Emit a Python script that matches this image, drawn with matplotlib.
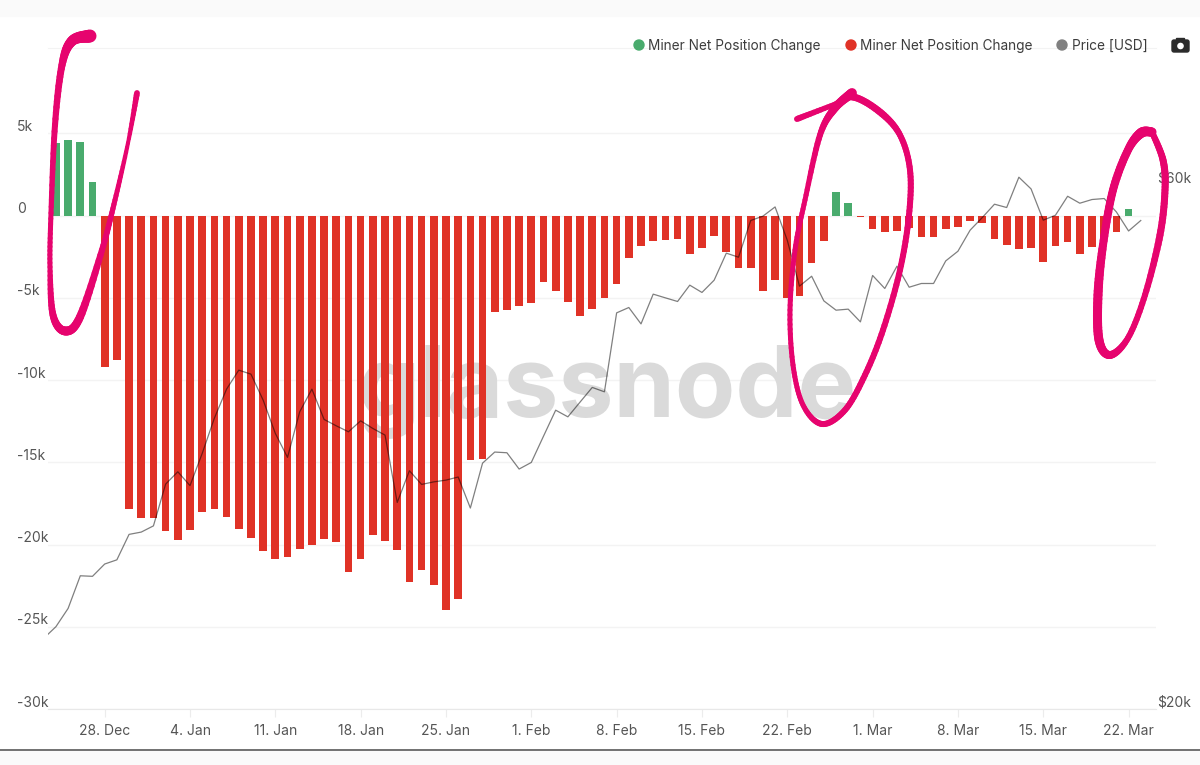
import matplotlib
matplotlib.use("Agg")
import matplotlib.dates as mdates
import matplotlib.pyplot as plt
import numpy as np
import pandas as pd
from matplotlib.collections import LineCollection
from matplotlib.lines import Line2D
from matplotlib.patches import Circle, FancyBboxPatch, Rectangle
from matplotlib.transforms import ScaledTranslation

W, H = 1200, 765

plt.rcParams["font.family"] = ["Inter", "DejaVu Sans"]

# daily net position change, 24 Dec to 22 Mar
net_change = [
    4390, 4590, 4450, 2050,
    -9200, -8800, -17870, -18400, -18400, -19170, -19740, -19100, -18000, -17870,
    -18340, -19030, -19580, -20410, -20900, -20750, -20260, -20000, -19660, -19860,
    -21670, -20900, -19450, -19800, -20350, -22300, -21520, -22480, -24000, -23300,
    -14870, -14800,
    -5850, -5750, -5500, -5340, -4050, -4590, -5280, -6110, -5690, -5020,
    -4190, -2600, -1860, -1570, -1510, -1430, -2320, -1980, -1230, -2200,
    -3210, -3210, -4590, -3920, -5000, -4880, -2890, -1570,
    1430, 740, -90,
    -820, -1020, -940, -740, -1310, -1310, -820, -680, -350, -470,
    -1430, -1770, -2060, -1980, -2810, -1840, -1630, -2320, -1920, -1350, -1020, 400,
]

# daily BTC price in USD, 23 Dec to 23 Mar
price_usd = [
    23200, 23770, 24700, 26450, 26420, 27110, 27350, 28850, 28990, 29370,
    32060, 32900, 31960, 34190, 36820, 39130, 40720, 40380, 38240, 35660,
    33910, 37310, 39130, 36720, 36230, 35780, 36610, 36030, 35530, 30850,
    32970, 32040, 32210, 32330, 32540, 30490, 33500, 34290, 34240, 33090,
    33550, 35450, 37440, 36920, 38080, 39270, 38910, 45920, 46440, 44870,
    47760, 47390, 47030, 48670, 47930, 49180, 52050, 51610, 55740, 56250,
    57350, 53480, 48570, 49590, 47090, 46180, 46280, 45060, 49670, 48330,
    50650, 48460, 48840, 48840, 51210, 52260, 54620, 56090, 57680, 57280,
    61040, 59560, 55780, 56360, 58650, 57800, 58250, 58370, 56750, 54530,
    55740,
]

left_ticks = [-30000, -25000, -20000, -15000, -10000, -5000, 0, 5000]
left_labels = ["-30k", "-25k", "-20k", "-15k", "-10k", "-5k", "0", "5k"]
right_ticks = [20000, 60000]
right_labels = ["$20k", "$60k"]
date_ticks = ["2020-12-28", "2021-01-04", "2021-01-11", "2021-01-18", "2021-01-25",
              "2021-02-01", "2021-02-08", "2021-02-15", "2021-02-22", "2021-03-01",
              "2021-03-08", "2021-03-15", "2021-03-22"]
date_labels = ["28. Dec", "4. Jan", "11. Jan", "18. Jan", "25. Jan", "1. Feb", "8. Feb",
               "15. Feb", "22. Feb", "1. Mar", "8. Mar", "15. Mar", "22. Mar"]

legend_names = ["Miner Net Position Change", "Miner Net Position Change", "Price [USD]"]

# hand-drawn marker strokes, in image pixels, with the pen width at each point
stroke_left = [(90, 36), (72, 41), (62, 65), (55, 125), (51, 213), (50, 267), (53, 315),
               (65, 331), (80, 317), (102, 250), (115, 200), (128, 143), (137, 93)]
width_left = [13, 10, 7, 6, 5, 5, 7, 9, 8, 6, 5, 4, 6]
stroke_mid = [(797, 119), (833, 105), (853, 97), (880, 112), (900, 135), (910, 170),
              (909, 215), (900, 270), (883, 330), (865, 375), (845, 410), (822, 424),
              (803, 405), (793, 365), (790, 310), (795, 250), (805, 200), (820, 135),
              (835, 108), (852, 93)]
width_mid = [6, 5, 7, 7, 6, 6, 6, 6, 6, 6, 6, 6, 5, 5, 5, 5, 5, 6, 8, 10]
stroke_right = [(1152, 132), (1163, 160), (1165, 190), (1160, 235), (1145, 295), (1128, 338),
                (1110, 355), (1099, 340), (1098, 295), (1103, 245), (1113, 190), (1128, 150),
                (1141, 133), (1152, 132)]
width_right = [6, 7, 7, 7, 6, 6, 8, 9, 9, 8, 8, 8, 10, 9]

GREEN = "#49ab6d"
RED = "#e03226"
GREY = "#808080"
TEXT = "#555555"
PINK = "#e6046e"
GRID = "#f3f3f3"


def smooth(points, n=12):
    """Catmull-Rom through the points, the strokes look polygonal otherwise."""
    p = np.array([points[0]] + list(points) + [points[-1]], dtype=float)
    out = []
    for i in range(1, len(p) - 2):
        t = np.linspace(0, 1, n, endpoint=False)[:, None]
        out.append(0.5 * (2 * p[i] + (p[i + 1] - p[i - 1]) * t
                          + (2 * p[i - 1] - 5 * p[i] + 4 * p[i + 1] - p[i + 2]) * t ** 2
                          + (3 * p[i] - p[i - 1] - 3 * p[i + 1] + p[i + 2]) * t ** 3))
    out.append(p[-2][None, :])
    return np.vstack(out)


def draw_stroke(fig, points, widths, n=12):
    xy = smooth(points, n)
    xy = np.column_stack([xy[:, 0] / W, 1 - xy[:, 1] / H])
    px = np.interp(np.arange(len(xy) - 1) / n, np.arange(len(widths)), widths)
    segments = np.stack([xy[:-1], xy[1:]], axis=1)
    fig.add_artist(LineCollection(segments, colors=PINK, linewidths=px * 0.72, capstyle="round",
                                  transform=fig.transFigure, zorder=20))


fig = plt.figure(figsize=(W / 100, H / 100), dpi=100, facecolor="white")
fig.add_artist(Rectangle((0, 1 - 16 / H), 1, 16 / H, transform=fig.transFigure, color="#fafafa", zorder=-5))
fig.add_artist(Rectangle((0, 0), 1, 15 / H, transform=fig.transFigure, color="#fafafa", zorder=-5))
fig.add_artist(Line2D([0, 1], [1 - 750 / H] * 2, transform=fig.transFigure, color="#666666", lw=1.3))

ax = fig.add_axes([48 / W, 1 - 709 / H, (1156 - 48) / W, (709 - 48.3) / H])
ax.set_facecolor("none")

bar_dates = pd.date_range("2020-12-24", periods=len(net_change), freq="D")
price_dates = pd.date_range("2020-12-23", periods=len(price_usd), freq="D")
values = np.array(net_change)
colors = np.where(values >= 0, GREEN, RED)
ax.bar(bar_dates, values, width=0.63, color=colors, zorder=3)

base = mdates.date2num(pd.Timestamp("2020-12-28"))
ax.set_xlim(base - 4.65, base + 86.25)
ax.set_ylim(-30000, 10170)

ax.set_yticks(left_ticks)
ax.set_yticklabels(left_labels)
ax.set_xticks(pd.to_datetime(date_ticks))
ax.set_xticklabels(date_labels)
ax.grid(axis="y", color=GRID, lw=1.0, zorder=0)
ax.set_axisbelow(True)
ax.tick_params(axis="y", length=0, pad=22.5, labelsize=10, labelcolor=TEXT)
ax.tick_params(axis="x", length=6, width=0.8, color="#ececec", pad=5, labelsize=10, labelcolor=TEXT)
for name in ["left", "right"]:
    ax.spines[name].set_visible(False)
ax.spines["top"].set_color(GRID)
ax.spines["bottom"].set_color("#e8e8e8")

# y labels sit left aligned, a little above their grid line
lift = ScaledTranslation(0, 8 / 100, fig.dpi_scale_trans)
for label in ax.get_yticklabels():
    label.set_ha("left")
    label.set_transform(label.get_transform() + lift)

ax.annotate("glassnode", xy=(607 / W, 1 - 417 / H), xycoords="figure fraction", ha="center", va="baseline",
            fontsize=71, color="#dadada", fontweight="bold", zorder=1)

price_ax = ax.twinx()
price_ax.set_facecolor("none")
price_ax.plot(price_dates, price_usd, color="black", alpha=0.5, lw=0.9, zorder=4)
price_ax.set_yscale("log")
price_ax.set_ylim(20000, 80000)
price_ax.set_yticks(right_ticks)
price_ax.set_yticklabels(right_labels)
price_ax.minorticks_off()
price_ax.tick_params(axis="y", length=0, pad=1, labelsize=10, labelcolor=TEXT)
for spine in price_ax.spines.values():
    spine.set_visible(False)
for label in price_ax.get_yticklabels():
    label.set_transform(label.get_transform() + lift)

# legend row, placed by hand like the site does
legend_x = [639, 851, 1062]
for x, name, color in zip(legend_x, legend_names, [GREEN, RED, GREY]):
    fig.add_artist(Circle((x, H - 45), 5, transform=None, color=color, zorder=10))
    fig.text((x + 9.5) / W, 1 - 46 / H, name, ha="left", va="center", fontsize=9.8, color="#3c3c3c")

# camera icon
fig.add_artist(FancyBboxPatch((1172, H - 52), 17, 12, boxstyle="round,pad=0,rounding_size=2",
                              transform=None, color="#2b2b2b", zorder=10))
fig.add_artist(Rectangle((1176, H - 41), 8, 3, transform=None, color="#2b2b2b", zorder=10))
fig.add_artist(Circle((1180.5, H - 46), 2.6, transform=None, color="white", zorder=11))

draw_stroke(fig, stroke_left, width_left)
draw_stroke(fig, stroke_mid, width_mid)
draw_stroke(fig, stroke_right, width_right)

fig.savefig("out.png", dpi=100)
plt.close(fig)
